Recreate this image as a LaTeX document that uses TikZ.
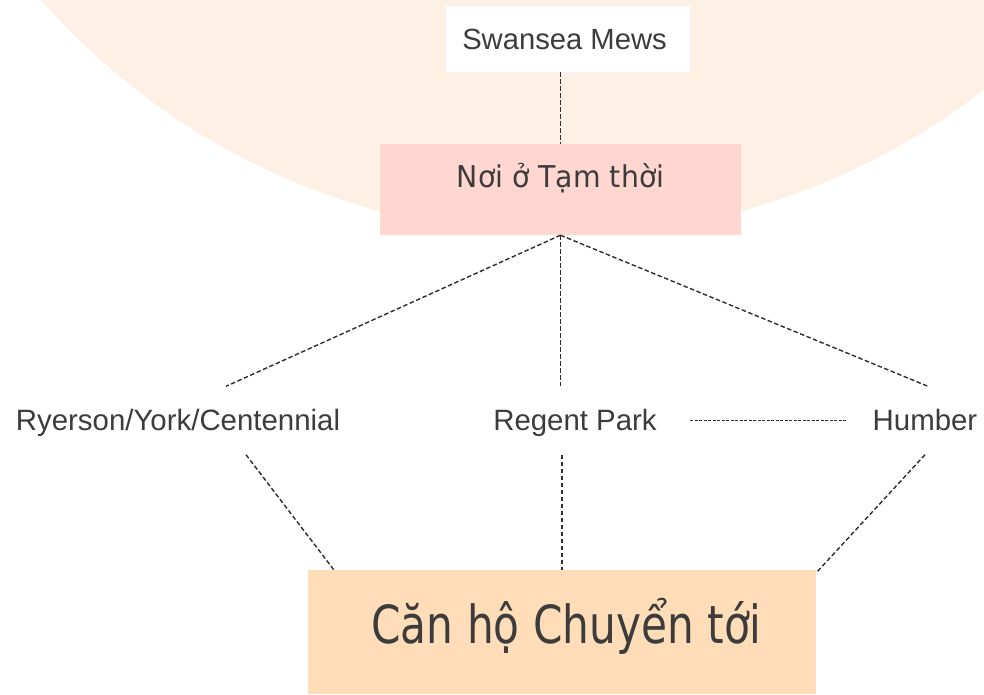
\documentclass[tikz,border=0pt]{standalone}
\usepackage{fontspec}
\setmainfont{Liberation Sans}
\newfontfamily\tahA[FakeStretch=0.945]{DejaVu Sans}
\newfontfamily\tahB[FakeStretch=0.805]{DejaVu Sans}
\usetikzlibrary{calc}
\definecolor{circfill}{HTML}{FDF0E4}
\definecolor{pinkfill}{HTML}{FFD6D0}
\definecolor{orangefill}{HTML}{FFDDB8}
\definecolor{txt}{HTML}{3C3C3C}
\definecolor{ln}{HTML}{2E2E2E}
\tikzset{
  lbl/.style={inner sep=0pt, text height=20pt, text depth=0pt, minimum height=68pt, text=txt,
    font=\fontsize{29.4}{34}\selectfont},
  conn/.style={draw=ln, line width=1.4pt, dash pattern=on 4.5pt off 2.5pt},
  fineconn/.style={draw=ln, line width=1.2pt, dash pattern=on 3pt off 1.5pt},
}
\begin{document}
\begin{tikzpicture}[x=1pt,y=-1pt]
\clip (0,0) rectangle (984,694);
\fill[white] (0,0) rectangle (984,694);
% big background circle
\fill[circfill] (560,-455) circle (690);
% nodes
\node[fill=white, inner sep=0pt, minimum width=244pt, minimum height=66pt,
      text height=20pt, text depth=0pt, text=txt, font=\fontsize{29.2}{34}\selectfont]
      (sw) at (568,39) {\hspace*{-7pt}Swansea Mews};
\node[fill=pinkfill, inner sep=0pt, minimum width=361pt, minimum height=91pt,
      text height=22pt, text depth=27pt, text=txt, font=\tahA\fontsize{30}{36}\selectfont]
      (tmp) at (560.5,189.5) {Nơi ở Tạm thời};
\node[lbl] (ry) at (178,420.5) {Ryerson/York/Centennial};
\node[lbl, minimum width=230pt] (rp) at (575,420.5) {Regent Park};
\node[lbl, minimum width=156pt] (hu) at (925,420.5) {Humber};
\node[fill=orangefill, inner sep=0pt, minimum width=508pt, minimum height=124pt,
      text height=38pt, text depth=16pt, text=txt, font=\tahB\fontsize{52.5}{60}\selectfont]
      (can) at (562,632) {\hspace*{9pt}Căn hộ Chuyển tới};
% connectors
\draw[conn] (tmp.north |- sw.south) -- (tmp.north);
\draw[conn] (tmp.south) -- ($(ry.north)+(48,0)$);
\draw[conn] (tmp.south) -- (tmp.south |- rp.north);
\draw[conn] (tmp.south) -- ($(hu.north)+(3,0)$);
\draw[fineconn] (rp.east) -- (hu.west);
\draw[conn] ($(ry.south)+(68,0)$) -- ($(can.north west)+(26,0)$);
\draw[conn] (can.north |- rp.south) -- (can.north);
\draw[conn] (hu.south) -- ($(can.north east)+(0,3)$);
\end{tikzpicture}
\end{document}
